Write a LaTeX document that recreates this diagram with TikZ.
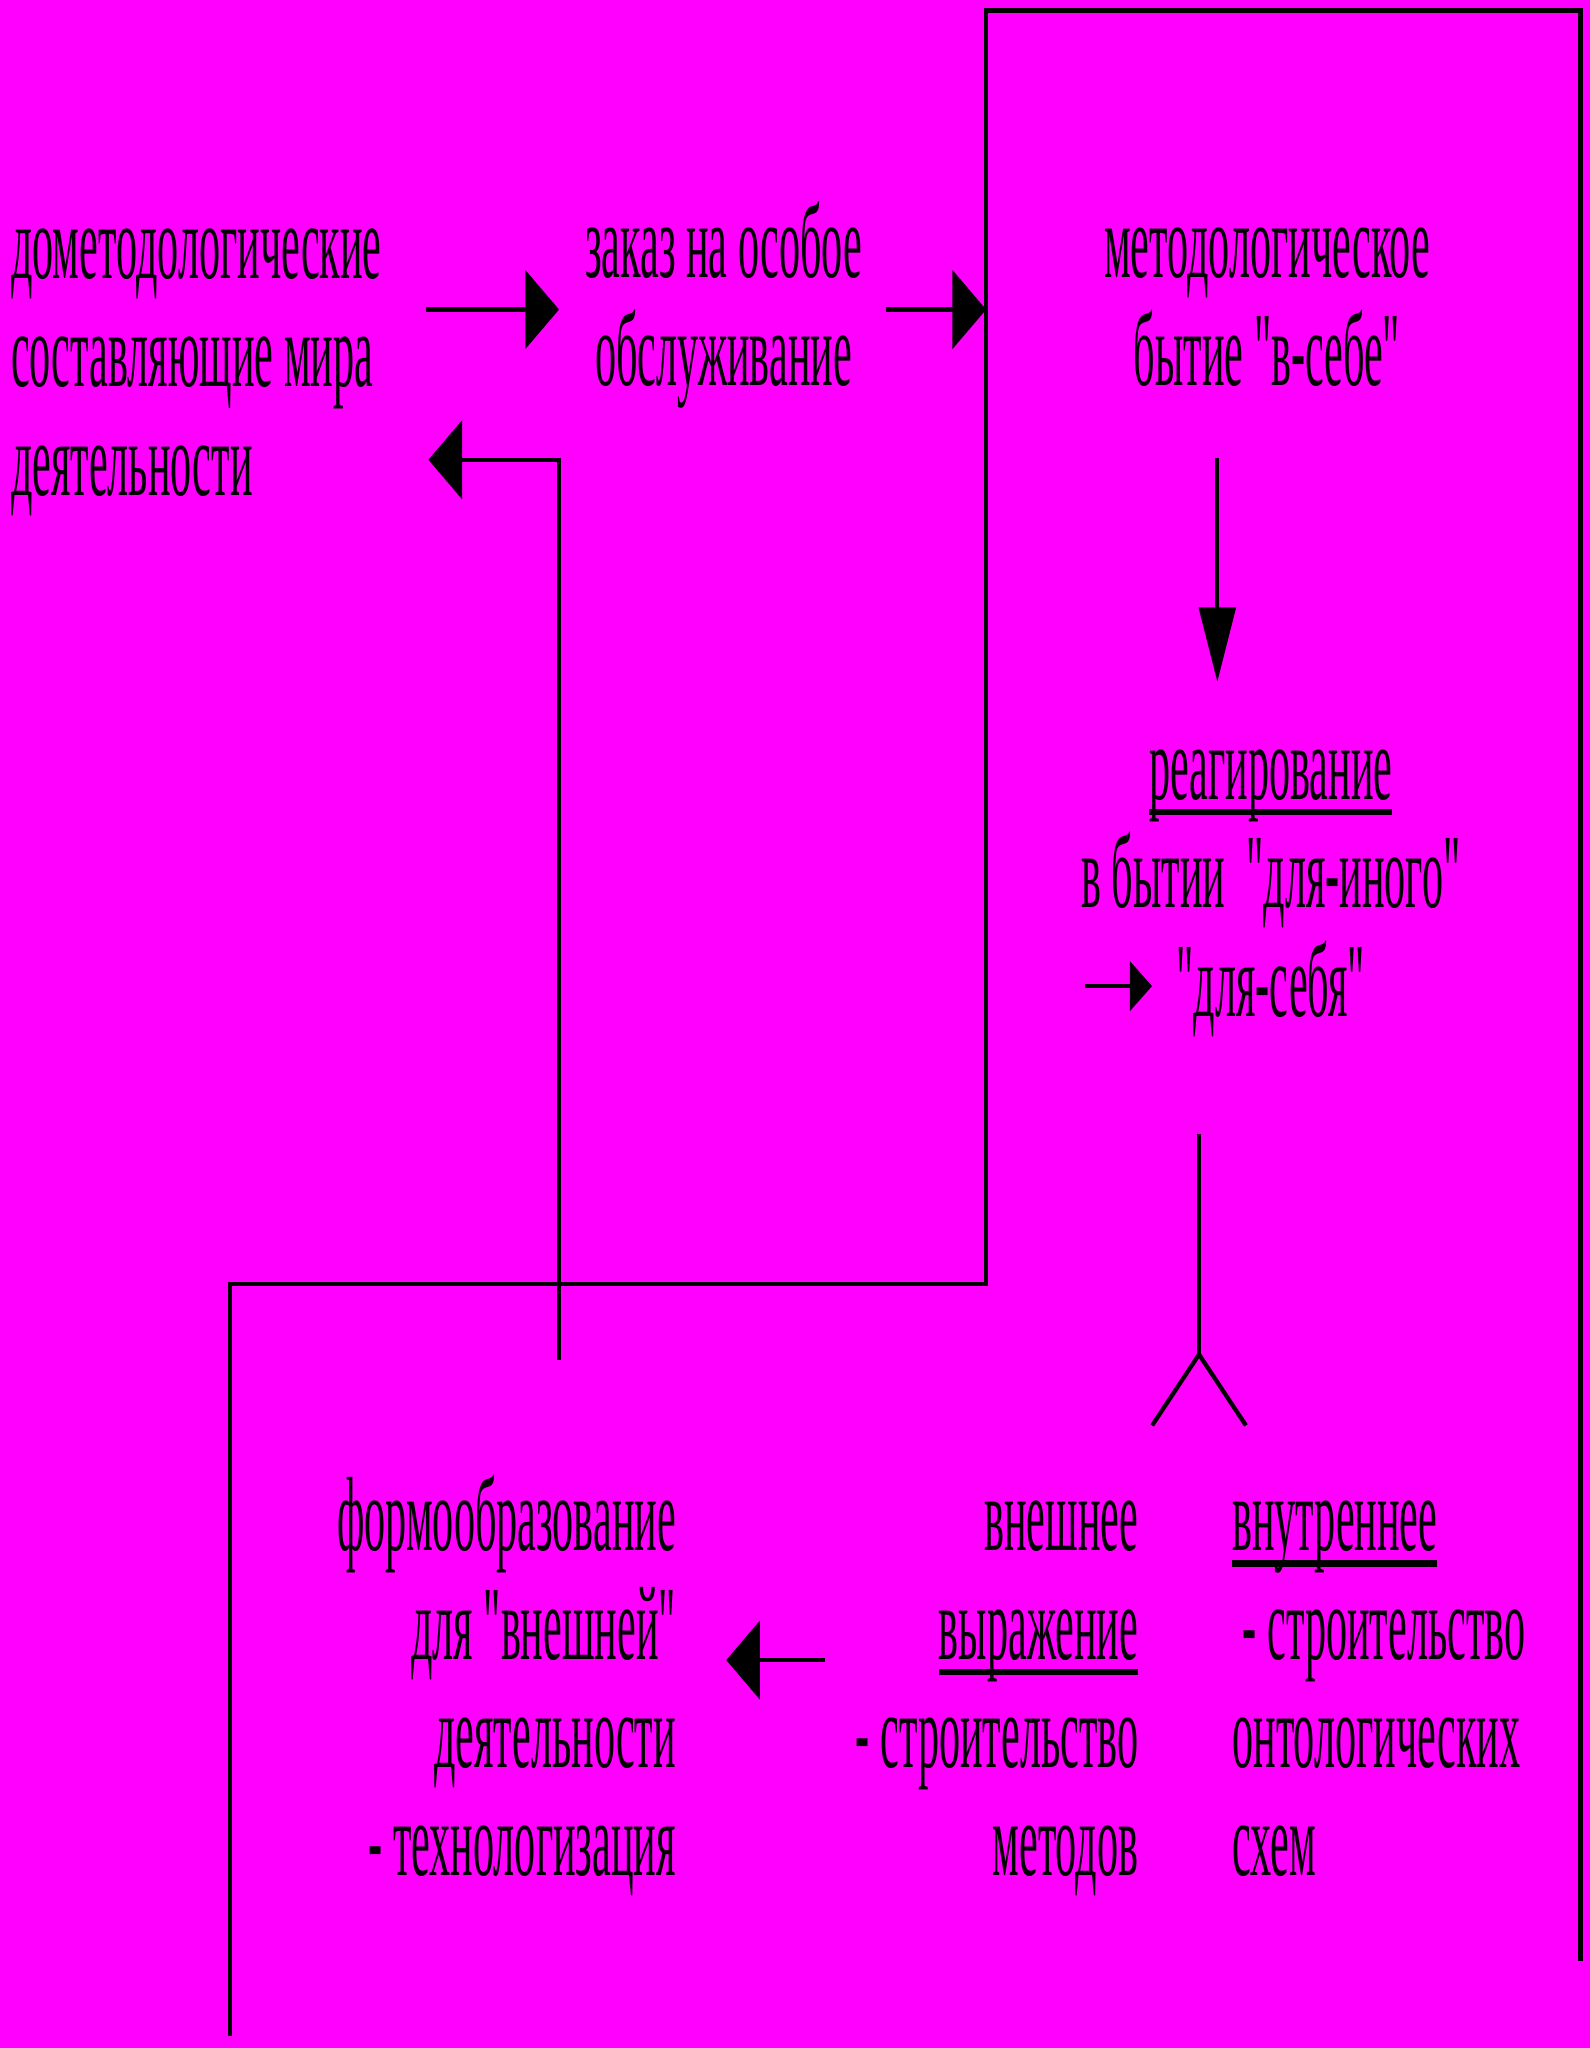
\documentclass[tikz,border=0pt]{standalone}
\usepackage{fontspec}
\setmainfont[FakeStretch=0.4]{Liberation Serif}
\usetikzlibrary{arrows.meta}
\newsavebox\ulbox
\newcommand\ulbar[1]{\sbox\ulbox{#1}\rlap{\rule[-4.5pt]{\wd\ulbox}{1.8pt}}\usebox\ulbox}
% straight quote, no tex-text mapping
\font\qfont="Liberation Serif:extend=0.4" at 30pt
\newcommand\dq{{\qfont\char34}}
\definecolor{bgmag}{RGB}{255,0,255}
\tikzset{
	txt/.style={inner sep=0pt, font=\fontsize{30}{30.8}\selectfont},
	ln/.style={line width=1.2pt, line cap=rect},
	harrow/.style={ln, -{Triangle[length=9.6pt, width=22.3pt]}},
	varrow/.style={ln, -{Triangle[length=21.2pt, width=10.4pt]}},
	sarrow/.style={ln, -{Triangle[length=6.3pt, width=14pt]}}
}
\begin{document}
\begin{tikzpicture}[x=0.13057mm, y=-0.13057mm]
			%%%%% START %%%%%
			
			\fill[bgmag] (0, 0) rectangle (1217, 1568);
			
			% base anchor = last line
			\node[txt, anchor=base west, align=left] (dom) at (8, 379) {дометодологические\\составляющие мира\\деятельности};
			\node[txt, anchor=base, align=center] (zak) at (554, 295) {заказ на особое\\обслуживание};
			\node[txt, anchor=base, align=center] (met) at (970, 295) {методологическое\\бытие \dq в-себе\dq};
			\node[txt, anchor=base, align=center] (rea) at (973, 778) {\ulbar{реагирование}\\в бытии\ \ \dq для-иного\dq\\\dq для-себя\dq};
			
			\node[txt, anchor=base east, align=right] (form) at (518, 1436) {формообразование\\для \dq внешней\dq\\деятельности\\- технологизация};
			\node[txt, anchor=base east, align=right] (vne) at (872, 1436) {внешнее\\\ulbar{выражение}\\- строительство\\методов};
			\node[txt, anchor=base west, align=left] (vnu) at (943, 1436) {\ulbar{внутреннее}\\\hspace*{3pt}- строительство\\онтологических\\схем};
			
			\coordinate (a1) at (328, 237);
			\coordinate (a2) at (428, 237);
			\coordinate (b1) at (680, 237);
			\coordinate (b2) at (755, 237);
			\draw[harrow] (a1) -- (a2);
			\draw[harrow] (b1) -- (b2);
			
			\draw[ln] (755, 983) -- (755, 8) -- (1210, 8) -- (1210, 1500);
			\draw[ln] (755, 983) -- (176, 983) -- (176, 1557);
			
			\coordinate (fb) at (428, 1040);
			\coordinate (fe) at (328, 352);
			\draw[harrow] (fb) |- (fe);
			
			\coordinate (d1) at (932, 352);
			\coordinate (d2) at (932, 522);
			\draw[varrow] (d1) -- (d2);
			
			\coordinate (s1) at (832, 755);
			\coordinate (s2) at (882, 755);
			\draw[sarrow] (s1) -- (s2);
			
			\coordinate (ft) at (918, 870);
			\coordinate (fk) at (918, 1037);
			\draw[ln] (ft) -- (fk);
			\draw[ln] (883, 1090) -- (fk) -- (953, 1090);
			
			\coordinate (l1) at (630, 1271);
			\coordinate (l2) at (556, 1271);
			\draw[harrow] (l1) -- (l2);
			
			%%%%% END %%%%%
\end{tikzpicture}
\end{document}
